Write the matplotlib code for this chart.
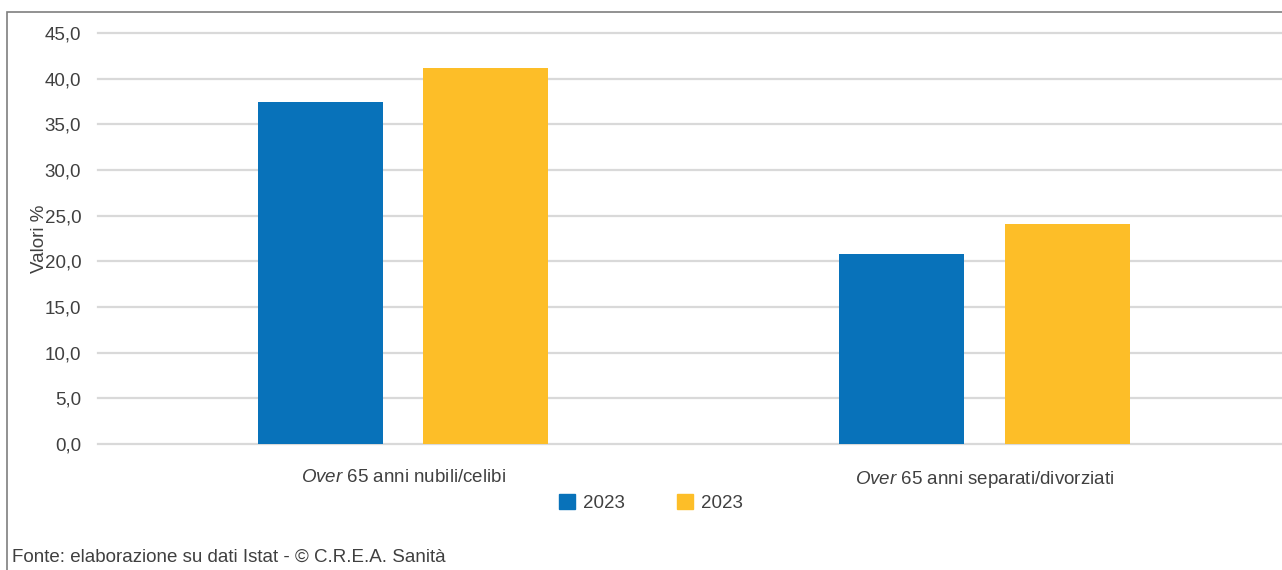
import numpy as np
import matplotlib.pyplot as plt
import matplotlib
from matplotlib.patches import Rectangle, Patch

matplotlib.rcParams['font.family'] = ['Liberation Sans', 'DejaVu Sans']
matplotlib.rcParams['mathtext.fontset'] = 'custom'
matplotlib.rcParams['mathtext.it'] = 'Liberation Sans:italic'
matplotlib.rcParams['mathtext.rm'] = 'Liberation Sans'

categories = [r'$\mathit{Over}$ 65 anni nubili/celibi', r'$\mathit{Over}$ 65 anni separati/divorziati']
series_names = ['2023', '2023']
values_a = [37.5, 20.8]
values_b = [41.2, 24.1]
yticks = np.arange(0, 50, 5)

blue = '#0872BA'
yellow = '#FDBE28'
txt = '#404040'

fig = plt.figure(figsize=(12.82, 5.70), dpi=100)
# outer frame
fig.patches.append(Rectangle((7/1282, -0.1), 1.2, 0.1 + 1 - 12/570, transform=fig.transFigure,
                             fill=False, edgecolor='#7f7f7f', lw=1.2))

ax = fig.add_axes([98/1282, 1 - 444/570, 1 - 98/1282, (444 - 33)/570])
x = np.arange(len(categories))
w = 0.215
off = 0.1424
ax.bar(x - off, values_a, w, color=blue, zorder=3, label=series_names[0])
ax.bar(x + off, values_b, w, color=yellow, zorder=3, label=series_names[1])

ax.set_xlim(-0.525, 1.512)
ax.set_ylim(0, 45)
ax.set_yticks(yticks)
ax.set_yticklabels([f'{v:.1f}'.replace('.', ',') for v in yticks], fontsize=13.5, color=txt)
ax.set_xticks(x)
ax.set_xticklabels(categories, fontsize=13.5, color=txt)
ax.tick_params(axis='both', length=0, pad=12)
ax.tick_params(axis='x', pad=18)
ax.grid(axis='y', color='#d9d9d9', lw=1.6, zorder=0)
for gl in ax.get_ygridlines():
    gl.set_clip_on(False)
for s in ax.spines.values():
    s.set_visible(False)
ax.set_ylabel('Valori %', fontsize=13.5, color=txt)
ax.yaxis.set_label_coords(-0.042, 0.5)

handles = [Patch(color=blue, label=series_names[0]), Patch(color=yellow, label=series_names[1])]
fig.legend(handles=handles, loc='center', bbox_to_anchor=(651/1282, 1 - 503/570), ncol=2,
           frameon=False, fontsize=13.5, handlelength=0.85, handleheight=0.85, columnspacing=2.8,
           handletextpad=0.4, labelcolor=txt)

fig.text(12/1282, 1 - 557/570, 'Fonte: elaborazione su dati Istat - © C.R.E.A. Sanità',
         fontsize=13.5, color=txt, va='center', ha='left')

fig.savefig('out.png', dpi=100)
